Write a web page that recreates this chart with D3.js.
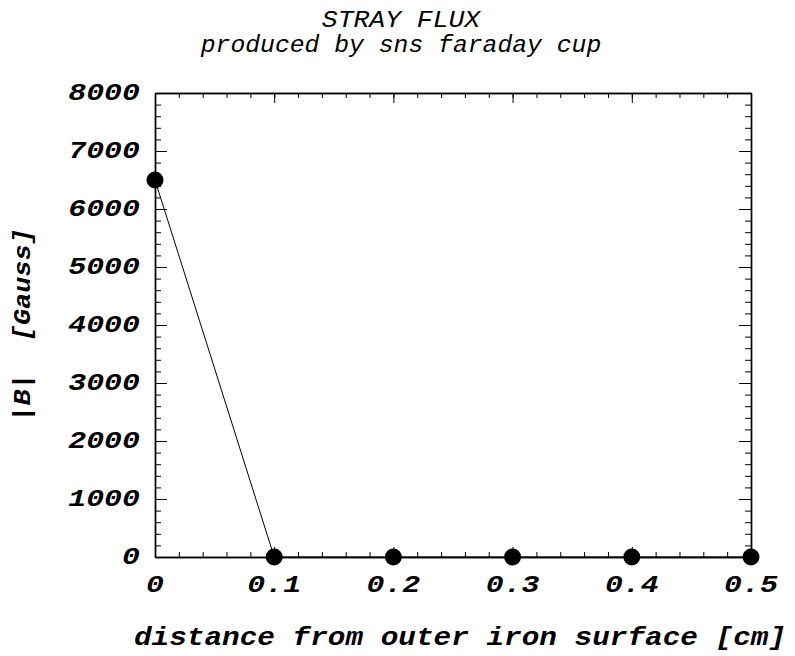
<!DOCTYPE html>
<html>
<head>
<meta charset="utf-8">
<script src="https://cdn.jsdelivr.net/npm/d3@7"></script>
<style>
  body { margin: 0; background: #fff; }
  text { font-family: "Liberation Mono", "DejaVu Sans Mono", monospace; fill: #000; }
</style>
</head>
<body>
<script>
// data
const distances = [0, 0.1, 0.2, 0.3, 0.4, 0.5];
const fieldValues = [6500, 0, 0, 0, 0, 0];
const xTickValues = [0, 0.1, 0.2, 0.3, 0.4, 0.5];
const yTickValues = [0, 1000, 2000, 3000, 4000, 5000, 6000, 7000, 8000];

const width = 795;
const height = 656;
const plotLeft = 155, plotRight = 751, plotTop = 93, plotBottom = 557;

const points = distances.map((d, i) => ({x: d, y: fieldValues[i]}));

const xScale = d3.scaleLinear().domain([0, 0.5]).range([plotLeft, plotRight]);
const yScale = d3.scaleLinear().domain([0, 8000]).range([plotBottom, plotTop]);

const svg = d3.select('body')
              .append('svg')
                .attr('width', width)
                .attr('height', height);

// title
svg.append('text')
   .attr('transform', 'translate(401,27) scale(1.1,1)')
   .attr('text-anchor', 'middle')
   .attr('font-size', 24).attr('font-style', 'italic')
   .text('STRAY FLUX');
svg.append('text')
   .attr('transform', 'translate(401,52) scale(1.03,1)')
   .attr('text-anchor', 'middle')
   .attr('font-size', 24).attr('font-style', 'italic')
   .text('produced by sns faraday cup');

// frame ticks: inward, major + minor
const xMinor = d3.range(0, 0.5001, 0.02);
const yMinor = d3.range(0, 8001, 200);

function tickAxis(axisFn, scale, values, size, translate) {
  svg.append('g')
     .attr('transform', translate)
     .call(axisFn(scale).tickValues(values).tickSize(size).tickSizeOuter(0).tickFormat(''))
     .call(g => g.select('.domain').attr('stroke-width', 1.4))
     .call(g => g.selectAll('.tick line').attr('stroke-width', 1));
}

tickAxis(d3.axisBottom, xScale, xMinor, -5, `translate(0,${plotBottom})`);
tickAxis(d3.axisBottom, xScale, xTickValues, -10, `translate(0,${plotBottom})`);
tickAxis(d3.axisTop, xScale, xMinor, -5, `translate(0,${plotTop})`);
tickAxis(d3.axisTop, xScale, xTickValues, -10, `translate(0,${plotTop})`);
tickAxis(d3.axisLeft, yScale, yMinor, -6, `translate(${plotLeft},0)`);
tickAxis(d3.axisLeft, yScale, yTickValues, -12, `translate(${plotLeft},0)`);
tickAxis(d3.axisRight, yScale, yMinor, -6, `translate(${plotRight},0)`);
tickAxis(d3.axisRight, yScale, yTickValues, -12, `translate(${plotRight},0)`);

// tick labels
svg.append('g').selectAll('text')
   .data(xTickValues)
   .enter()
     .append('text')
       .attr('transform', d => `translate(${xScale(d)},592) scale(1.3,1)`)
       .attr('text-anchor', 'middle')
       .attr('font-size', 23).attr('font-weight', 'bold').attr('font-style', 'italic')
       .text(d => d === 0 ? '0' : d3.format('.1f')(d));

svg.append('g').selectAll('text')
   .data(yTickValues)
   .enter()
     .append('text')
       .attr('transform', d => `translate(140,${yScale(d) + 7}) scale(1.3,1)`)
       .attr('text-anchor', 'end')
       .attr('font-size', 23).attr('font-weight', 'bold').attr('font-style', 'italic')
       .text(d => d);

// axis labels
svg.append('text')
   .attr('transform', 'translate(460,645) scale(1.13,1)')
   .attr('text-anchor', 'middle')
   .attr('font-size', 26).attr('font-weight', 'bold').attr('font-style', 'italic')
   .text('distance from outer iron surface [cm]');

svg.append('text')
   .attr('transform', 'translate(30,325) rotate(-90) scale(1.12,1)')
   .attr('text-anchor', 'middle')
   .attr('font-size', 24).attr('font-weight', 'bold').attr('font-style', 'italic')
   .style('white-space', 'pre')
   .text('|B|  [Gauss]');

// line and points
const line = d3.line().x(d => xScale(d.x)).y(d => yScale(d.y));
svg.append('path')
   .datum(points)
   .attr('d', line)
   .attr('fill', 'none')
   .attr('stroke', '#000')
   .attr('stroke-width', 1);

svg.append('g').selectAll('circle')
   .data(points)
   .enter()
     .append('circle')
       .attr('cx', d => xScale(d.x))
       .attr('cy', d => yScale(d.y))
       .attr('r', 8.5)
       .attr('fill', '#000');
</script>
</body>
</html>
